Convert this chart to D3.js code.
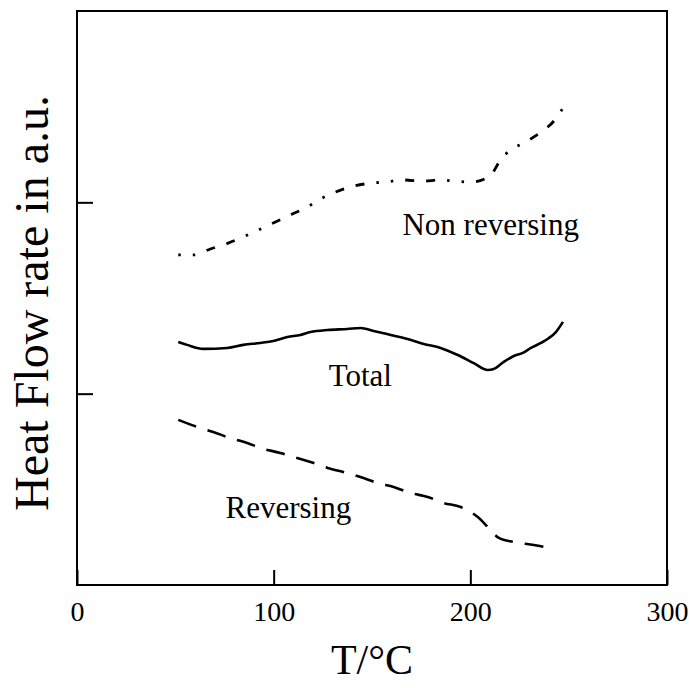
<!DOCTYPE html>
<html>
<head>
<meta charset="utf-8">
<script src="https://cdn.jsdelivr.net/npm/d3@7"></script>
<style>
  body { margin: 0; background: #fff; }
  text { font-family: "Liberation Serif", "Times New Roman", serif; fill: #000; }
</style>
</head>
<body>
<svg id="chart" width="689" height="688"></svg>
<script>
// temperature (°C) and heat flow (a.u.)
const nonRevT = [51.5, 59.1, 67.8, 76.9, 85.6, 92.2, 99.8, 109.5, 117.2, 122.8, 130.4, 140.6, 150.3, 156.9, 165.6, 175.8, 184.9, 191.5, 200.2, 209.9, 215.0, 219.6, 227.2, 235.9, 242.5, 247.1];
const nonRevY = [1.725, 1.725, 1.756, 1.787, 1.824, 1.855, 1.892, 1.939, 1.976, 2.012, 2.049, 2.085, 2.101, 2.106, 2.117, 2.111, 2.117, 2.111, 2.106, 2.137, 2.216, 2.268, 2.310, 2.367, 2.425, 2.493];

const totalT = [51.5, 56.0, 64.2, 76.4, 84.6, 93.2, 99.8, 107.0, 113.6, 118.7, 127.4, 137.5, 144.2, 150.8, 159.5, 168.1, 176.3, 184.9, 193.6, 201.7, 208.9, 211.9, 217.0, 222.1, 226.7, 230.8, 235.9, 240.0, 243.5, 247.1];
const totalY = [1.270, 1.255, 1.234, 1.239, 1.255, 1.265, 1.275, 1.296, 1.307, 1.322, 1.333, 1.338, 1.343, 1.328, 1.307, 1.286, 1.260, 1.239, 1.202, 1.160, 1.124, 1.129, 1.166, 1.197, 1.213, 1.239, 1.265, 1.291, 1.322, 1.375];

const revT = [51.5, 61.1, 69.3, 77.9, 86.6, 93.2, 103.4, 110.0, 118.7, 127.4, 137.5, 145.7, 152.8, 161.0, 169.6, 178.3, 186.4, 195.1, 203.8, 208.9, 214.5, 222.1, 232.3, 242.5];
const revY = [0.863, 0.826, 0.800, 0.768, 0.742, 0.716, 0.690, 0.669, 0.643, 0.612, 0.585, 0.559, 0.533, 0.512, 0.481, 0.460, 0.429, 0.408, 0.355, 0.303, 0.246, 0.225, 0.209, 0.188];

const xTicks = [0, 100, 200, 300];
const yTicks = [1, 2];

const labels = [
  { text: "Non reversing", t: 165.5, v: 1.83 },
  { text: "Total", t: 128, v: 1.04 },
  { text: "Reversing", t: 75.5, v: 0.35 }
];

const svg = d3.select("#chart");
const plotLeft = 77, plotRight = 667, plotTop = 11, plotBottom = 585;

const x = d3.scaleLinear().domain([0, 300]).range([plotLeft, plotRight]);
const y = d3.scaleLinear().domain([0, 3]).range([plotBottom, plotTop]);

// frame
svg.append("rect")
  .attr("x", plotLeft).attr("y", plotTop)
  .attr("width", plotRight - plotLeft).attr("height", plotBottom - plotTop)
  .attr("fill", "none").attr("stroke", "#000").attr("stroke-width", 2);

// x axis: inward ticks, labels below
const xAxis = svg.append("g").attr("transform", `translate(0,${plotBottom})`)
  .call(d3.axisBottom(x).tickValues(xTicks).tickSizeInner(-15).tickSizeOuter(0).tickPadding(16));
xAxis.select(".domain").remove();
xAxis.selectAll("line").attr("stroke", "#000").attr("stroke-width", 2);
xAxis.selectAll("text").attr("font-size", 28).attr("font-family", "Liberation Serif").attr("fill", "#000");

// y axis: inward ticks, no labels
const yAxis = svg.append("g").attr("transform", `translate(${plotLeft},0)`)
  .call(d3.axisLeft(y).tickValues(yTicks).tickSizeInner(-16).tickSizeOuter(0).tickFormat(""));
yAxis.select(".domain").remove();
yAxis.selectAll("line").attr("stroke", "#000").attr("stroke-width", 2);

const line = d3.line().x(d => x(d[0])).y(d => y(d[1])).curve(d3.curveMonotoneX);

svg.append("path")
  .datum(d3.zip(nonRevT, nonRevY))
  .attr("d", line)
  .attr("fill", "none").attr("stroke", "#000").attr("stroke-width", 2.8)
  .attr("stroke-dasharray", "2.5,12,2.5,12,9,12,9,12");

svg.append("path")
  .datum(d3.zip(totalT, totalY))
  .attr("d", line)
  .attr("fill", "none").attr("stroke", "#000").attr("stroke-width", 2.6);

svg.append("path")
  .datum(d3.zip(revT, revY))
  .attr("d", line)
  .attr("fill", "none").attr("stroke", "#000").attr("stroke-width", 2.6)
  .attr("stroke-dasharray", "19,12");

svg.selectAll("text.curve-label")
  .data(labels)
  .join("text")
  .attr("class", "curve-label")
  .attr("x", d => x(d.t))
  .attr("y", d => y(d.v))
  .attr("font-size", 31)
  .text(d => d.text);

svg.append("text")
  .attr("x", (plotLeft + plotRight) / 2)
  .attr("y", 674)
  .attr("text-anchor", "middle")
  .attr("font-size", 42)
  .text("T/°C");

svg.append("text")
  .attr("transform", `translate(48,${(plotTop + plotBottom) / 2 + 5}) rotate(-90)`)
  .attr("text-anchor", "middle")
  .attr("font-size", 48)
  .text("Heat Flow rate in a.u.");
</script>
</body>
</html>
